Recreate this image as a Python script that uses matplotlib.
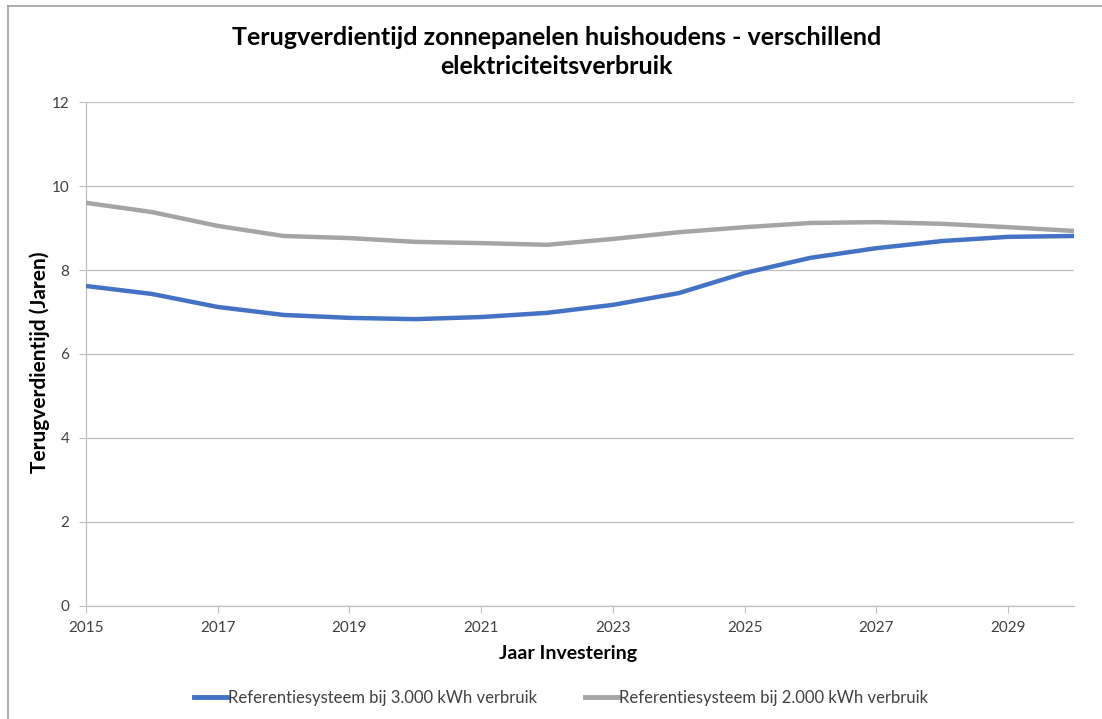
import matplotlib.pyplot as plt
from matplotlib.lines import Line2D

# data
years = list(range(2015, 2031))
verbruik_3000 = [7.62, 7.43, 7.12, 6.93, 6.86, 6.83, 6.88, 6.98,
                 7.17, 7.45, 7.93, 8.29, 8.52, 8.69, 8.79, 8.81]
verbruik_2000 = [9.60, 9.38, 9.05, 8.81, 8.76, 8.67, 8.64, 8.60,
                 8.74, 8.90, 9.02, 9.12, 9.14, 9.10, 9.02, 8.93]
labels = ['Referentiesysteem bij 3.000 kWh verbruik',
          'Referentiesysteem bij 2.000 kWh verbruik']
tick_years = list(range(2015, 2031, 2))

plt.rcParams['font.family'] = ['Lato', 'DejaVu Sans']

fig = plt.figure(figsize=(11.02, 7.19), dpi=100)
ax = fig.add_axes([0.078, 0.1572, 0.8966, 0.7009])

blue = '#4472C4'
grey = '#A5A5A5'
ax.plot(years, verbruik_3000, color=blue, lw=3.2, solid_joinstyle='round',
        solid_capstyle='butt', zorder=3)
ax.plot(years, verbruik_2000, color=grey, lw=3.2, solid_joinstyle='round',
        solid_capstyle='butt', zorder=3)

ax.set_xlim(2015, 2030)
ax.set_ylim(0, 12)
ax.set_yticks(range(0, 13, 2))
ax.set_xticks(tick_years)
ax.grid(axis='y', color='#BFBFBF', lw=0.9)
ax.set_axisbelow(True)
for s in ['top', 'right']:
    ax.spines[s].set_visible(False)
ax.spines['left'].set_color('#BFBFBF')
ax.spines['bottom'].set_color('#BFBFBF')
ax.spines['left'].set_linewidth(0.9)
ax.spines['bottom'].set_linewidth(0.9)
ax.tick_params(axis='y', colors='#BFBFBF', labelcolor='#404040', length=5,
               labelsize=11, pad=7)
ax.tick_params(axis='x', colors='#BFBFBF', labelcolor='#404040', length=5,
               labelsize=11, pad=6)

ax.set_ylabel('Terugverdientijd (Jaren)', fontsize=15, fontweight='bold')
ax.yaxis.set_label_coords(-0.0364, 0.484)
ax.set_xlabel('Jaar Investering', fontsize=14, fontweight='bold')
ax.xaxis.set_label_coords(0.488, -0.078)
fig.text(0.505, 0.928, 'Terugverdientijd zonnepanelen huishoudens - verschillend\nelektriciteitsverbruik',
         ha='center', va='center', fontsize=18, fontweight='bold',
         linespacing=1.3)

handles = [Line2D([], [], color=blue, lw=3.5), Line2D([], [], color=grey, lw=3.5)]
fig.legend(handles, labels, loc='center', bbox_to_anchor=(0.509, 0.029),
           ncol=2, frameon=False, fontsize=12, handlelength=2.0,
           handletextpad=0.05, columnspacing=2.9, labelcolor='#404040')

# outer chart border (only left and top visible in the screenshot)
fig.add_artist(Line2D([0.0075, 0.0075], [0, 0.9916], color='#A0A0A0', lw=1.2,
                      transform=fig.transFigure))
fig.add_artist(Line2D([0.0075, 1], [0.9916, 0.9916], color='#A0A0A0', lw=1.2,
                      transform=fig.transFigure))

fig.savefig('out.png', dpi=100)
